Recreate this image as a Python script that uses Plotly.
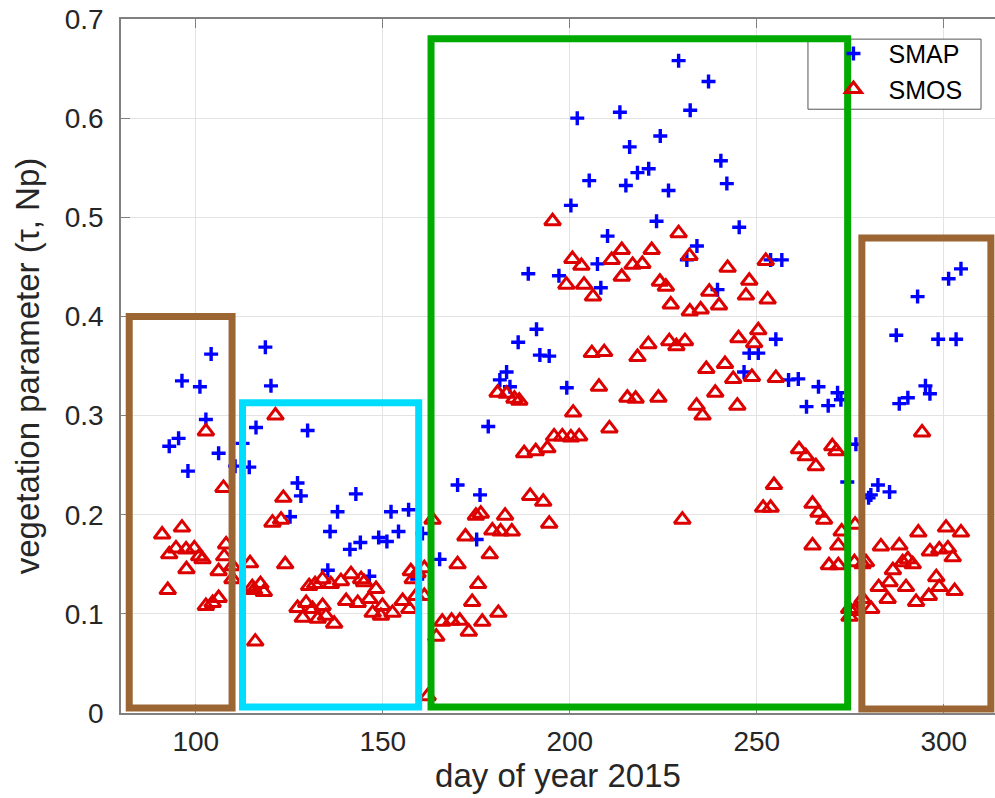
import plotly.graph_objects as go

# ---------------- data ----------------
smap_day = [92.9, 95.4, 96.3, 97.9, 101.1, 102.7, 104.1, 106.1, 110.5, 112.5, 114.3, 116.1,
            118.6, 120.1, 125.2, 127.2, 128.1, 129.9, 135.3, 135.9, 137.9, 141.2, 142.8, 144.0,
            146.4, 148.9, 151.1, 152.2, 154.2, 156.9, 159.2, 160.6,
            165.2, 170.0, 175.1, 176.0, 178.2, 181.3, 183.1, 184.0, 186.2, 188.9, 191.1, 192.0,
            194.5, 197.1, 199.2, 200.3, 202.0, 205.2, 207.4, 208.3, 210.1, 213.4, 215.0, 216.0,
            218.1, 221.1, 223.2, 224.2, 226.4, 229.1, 231.3, 232.2, 234.0, 237.1, 239.5, 240.4,
            242.0, 245.3, 246.6, 248.0, 250.4, 253.7, 255.1, 256.7, 258.5, 261.1, 263.3, 266.5,
            269.1, 271.6, 272.5, 274.2, 276.5,
            279.9, 280.5, 282.4, 285.5, 287.3, 288.1, 290.4, 293.0, 295.1, 296.3, 298.5, 301.3,
            303.3, 304.6]
smap_tau = [0.269, 0.277, 0.335, 0.244, 0.329, 0.296, 0.362, 0.262, 0.249, 0.272, 0.248, 0.288,
            0.369, 0.330, 0.198, 0.232, 0.219, 0.285, 0.144, 0.183, 0.203, 0.165, 0.221, 0.172,
            0.138, 0.177, 0.173, 0.203, 0.183, 0.205, 0.135, 0.181,
            0.155, 0.230, 0.175, 0.220, 0.289, 0.336, 0.344, 0.329, 0.374, 0.443, 0.387, 0.361,
            0.360, 0.441, 0.328, 0.512, 0.600, 0.537, 0.453, 0.429, 0.481, 0.606, 0.532, 0.571,
            0.545, 0.549, 0.496, 0.582, 0.527, 0.658, 0.457, 0.608, 0.471, 0.637, 0.427, 0.557,
            0.534, 0.490, 0.344, 0.363, 0.363, 0.457, 0.377, 0.457, 0.336, 0.337, 0.309, 0.329,
            0.310, 0.323, 0.316, 0.233, 0.271,
            0.217, 0.220, 0.230, 0.223, 0.381, 0.312, 0.318, 0.420, 0.330, 0.322, 0.377, 0.438,
            0.377, 0.448]

smos_day = [91.0, 92.5, 92.9, 94.7, 96.3, 97.4, 97.5, 99.6, 100.9, 101.8, 102.7, 102.7,
            104.5, 106.1, 106.1, 107.4, 107.6, 108.1, 109.8, 109.8, 114.5, 115.1, 115.6, 115.9,
            117.3, 118.2, 120.5, 121.3, 122.8, 123.4, 123.9,
            130.3, 131.9, 133.9, 136.1, 138.8, 141.5, 144.2, 145.0, 148.2, 157.5, 159.3,
            127.2, 129.5, 131.2, 133.9, 128.6, 132.6, 134.8, 137.0, 140.2, 143.3, 146.4, 147.3,
            149.9, 149.5, 152.6, 155.3, 157.1, 158.9, 158.0,
            161.1, 161.1, 162.0, 163.3,
            195.4, 200.7, 203.1, 199.1, 203.8, 206.2, 211.2, 213.9, 213.9, 216.8, 205.9, 209.2,
            207.8, 210.6, 218.1, 215.4, 217.6, 200.9, 195.8, 198.0, 200.3, 202.5, 187.8, 190.9,
            194.0, 180.7, 183.1, 185.2, 186.5, 189.4, 192.9, 194.5, 174.9, 176.2, 182.7, 179.3,
            181.5, 184.5, 172.1, 178.6, 170.0, 175.5, 173.9, 180.9, 176.6, 173.0, 165.9, 168.4,
            170.6, 164.3,
            221.9, 219.4, 229.1, 232.0, 224.1, 225.7, 227.0, 232.1, 235.0, 239.9, 237.3, 242.2,
            248.0, 247.1, 252.4, 252.9, 221.0, 226.6, 228.5, 230.8, 245.1, 250.4, 249.3, 236.5,
            241.5, 243.7, 248.7, 255.1, 238.9, 233.9, 235.5, 244.8, 223.7, 230.1, 254.6, 251.7,
            253.7, 261.3, 263.1, 265.8, 270.2, 271.3, 264.9, 266.5, 268.0, 264.9, 272.7, 271.8,
            269.3, 271.8, 276.3, 274.7, 276.5,
            294.2, 300.6, 304.6, 293.2, 283.2, 288.1, 296.3, 298.8, 301.1, 302.4, 289.0, 290.4,
            291.7, 286.4, 285.5, 282.6, 289.9, 298.0, 298.8, 296.0, 302.9, 285.0, 292.6, 278.3,
            280.6, 276.1, 274.8, 276.1, 278.3, 279.2]
smos_tau = [0.180, 0.124, 0.160, 0.166, 0.187, 0.165, 0.145, 0.166, 0.158, 0.155, 0.284, 0.108,
            0.111, 0.116, 0.143, 0.227, 0.158, 0.170, 0.135, 0.148, 0.151, 0.127, 0.124, 0.072,
            0.130, 0.122, 0.192, 0.300, 0.195, 0.217, 0.150,
            0.128, 0.130, 0.135, 0.130, 0.133, 0.140, 0.135, 0.132, 0.125, 0.143, 0.141,
            0.106, 0.111, 0.105, 0.108, 0.096, 0.095, 0.098, 0.090, 0.113, 0.111, 0.115, 0.101,
            0.108, 0.098, 0.101, 0.113, 0.105, 0.118, 0.135,
            0.146, 0.118, 0.017, 0.195,
            0.496, 0.458, 0.451, 0.432, 0.432, 0.420, 0.457, 0.467, 0.440, 0.452, 0.363, 0.364,
            0.329, 0.287, 0.359, 0.318, 0.317, 0.303, 0.279, 0.279, 0.278, 0.279, 0.262, 0.264,
            0.267, 0.323, 0.322, 0.317, 0.315, 0.219, 0.213, 0.191, 0.199, 0.201, 0.199, 0.184,
            0.183, 0.183, 0.178, 0.160, 0.150, 0.130, 0.112, 0.101, 0.092, 0.082, 0.092, 0.093,
            0.093, 0.077,
            0.467, 0.453, 0.484, 0.461, 0.435, 0.430, 0.412, 0.405, 0.407, 0.411, 0.425, 0.449,
            0.436, 0.421, 0.456, 0.417, 0.372, 0.375, 0.370, 0.375, 0.378, 0.386, 0.373, 0.347,
            0.352, 0.337, 0.339, 0.338, 0.323, 0.310, 0.300, 0.310, 0.318, 0.195, 0.230, 0.207,
            0.207, 0.266, 0.259, 0.249, 0.269, 0.264, 0.211, 0.202, 0.195, 0.169, 0.183, 0.169,
            0.149, 0.149, 0.190, 0.105, 0.105,
            0.283, 0.187, 0.182, 0.182, 0.168, 0.169, 0.163, 0.165, 0.166, 0.157, 0.152, 0.155,
            0.150, 0.144, 0.132, 0.127, 0.127, 0.137, 0.127, 0.118, 0.123, 0.115, 0.112, 0.115,
            0.105, 0.103, 0.097, 0.152, 0.150, 0.152]

# highlighted periods: (day start, day end, tau bottom, tau top, colour)
box_x0 = [82.2, 112.5, 162.9, 278.1]
box_x1 = [109.7, 159.6, 274.3, 312.6]
box_y0 = [0.005, 0.006, 0.006, 0.004]
box_y1 = [0.400, 0.313, 0.680, 0.479]
box_colors = ["#9b6633", "#00ddff", "#00aa00", "#9b6633"]

x_range = [80, 313.7]
y_range = [0, 0.7]

FONT = "Liberation Sans, Arial, Helvetica, sans-serif"

fig = go.Figure()
fig.add_trace(go.Scatter(
    x=smap_day, y=smap_tau, mode="markers", name="SMAP",
    marker=dict(symbol="cross-thin-open", size=10, color="#0000ff",
                line=dict(color="#0000ff", width=3.4))))
fig.add_trace(go.Scatter(
    x=smos_day, y=smos_tau, mode="markers", name="SMOS",
    marker=dict(symbol="triangle-up-open", size=14, color="#dd0000",
                line=dict(color="#dd0000", width=3))))

shapes = []
# legend background and frame
shapes.append(dict(type="rect", xref="paper", yref="paper", x0=0.786, x1=0.984,
                   y0=0.870, y1=0.971, fillcolor="white",
                   line=dict(color="#555555", width=1), layer="above"))
for x0, x1, y0, y1, c in zip(box_x0, box_x1, box_y0, box_y1, box_colors):
    shapes.append(dict(type="rect", xref="x", yref="y", x0=x0, x1=x1, y0=y0, y1=y1,
                       line=dict(color=c, width=7), layer="above"))

fig.update_layout(
    width=995, height=798,
    margin=dict(l=121, r=0, t=19, b=85, autoexpand=False),
    paper_bgcolor="white", plot_bgcolor="white",
    font=dict(family=FONT, color="#262626"),
    shapes=shapes,
    showlegend=True,
    legend=dict(x=0.798, y=0.983, xanchor="left", yanchor="top",
                bgcolor="rgba(0,0,0,0)", borderwidth=0, itemwidth=60,
                font=dict(size=25, color="black", family=FONT)),
)
fig.update_xaxes(
    range=x_range, tick0=0, dtick=50, ticks="inside", ticklen=9, tickcolor="#808080",
    showline=True, linecolor="#808080", linewidth=1.5, mirror="ticks",
    showgrid=True, gridcolor="#e3e3e3", gridwidth=1, zeroline=False, automargin=False,
    tickfont=dict(size=28), ticklabelstandoff=3, ticklabeloverflow="allow",
    title=dict(text="day of year 2015", font=dict(size=33), standoff=8))
fig.update_yaxes(
    range=y_range, tick0=0, dtick=0.1, ticks="inside", ticklen=9, tickcolor="#808080",
    showline=True, linecolor="#808080", linewidth=1.5, mirror=False,
    showgrid=True, gridcolor="#e3e3e3", gridwidth=1, zeroline=False, automargin=False,
    tickfont=dict(size=28), ticklabelstandoff=10, ticklabeloverflow="allow",
    title=dict(text="vegetation parameter (τ, Np)", font=dict(size=33)))

fig.write_html(
    "out.html",
    config={"displayModeBar": False},
    post_script="document.body.style.margin='0px';document.body.style.overflow='hidden';")
